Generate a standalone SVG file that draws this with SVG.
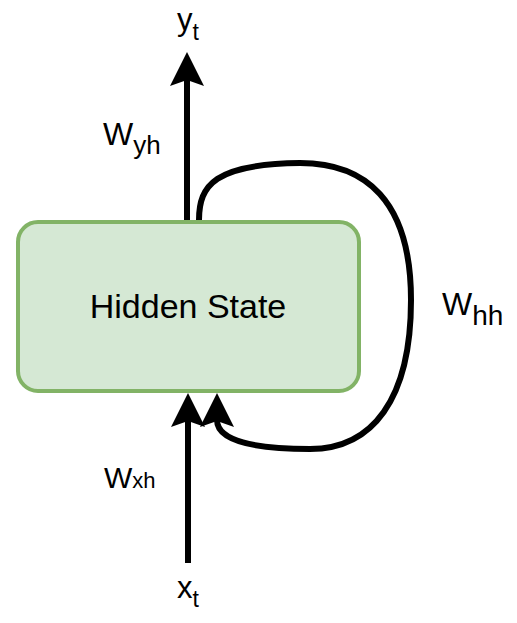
<svg xmlns="http://www.w3.org/2000/svg" width="517" height="623" viewBox="0 0 517 623">
<style>
.lbl{font-family:"Liberation Sans",Arial,sans-serif;fill:#000}
.edge{fill:none;stroke:#000;stroke-width:6}
.head{fill:#000;stroke:none}
</style>
<rect width="517" height="623" fill="#fff"/>
<g id="hidden-state">
<rect x="18" y="222" width="341" height="169" rx="20" ry="20" fill="#d5e8d4" stroke="#82b366" stroke-width="4"/>
<text class="lbl" x="188" y="318" font-size="34" text-anchor="middle">Hidden State</text>
</g>
<g id="connectors">
<path class="edge" d="M187,220 L187,80"/>
<path class="head" d="M187,52 L204,86 L187,80 L170,86 Z"/>
<path class="edge" d="M188,563 L188,420"/>
<path class="head" d="M188,393 L205,427 L188,421 L171,427 Z"/>
<path class="edge" d="M199,220 C199,185 215,164 300,163 C365,163 411,200 411,300 C411,400 372,449 310,449 C255,449 217,441 217,420"/>
<path class="head" d="M217,393 L234,427 L217,421 L200,427 Z"/>
</g>
<g id="label-yt">
<text class="lbl" x="177" y="30" font-size="31">y<tspan font-size="23" y="40">t</tspan></text>
</g>
<g id="label-xt">
<text class="lbl" x="177" y="598" font-size="31">x<tspan font-size="23" y="607">t</tspan></text>
</g>
<g id="label-wyh">
<text class="lbl" x="103" y="145" font-size="32">W<tspan font-size="26" y="154">yh</tspan></text>
</g>
<g id="label-wxh">
<text class="lbl" x="104" y="488" font-size="30">W<tspan font-size="22">xh</tspan></text>
</g>
<g id="label-whh">
<text class="lbl" x="442" y="315" font-size="32">W<tspan font-size="28" y="325">hh</tspan></text>
</g>
</svg>
